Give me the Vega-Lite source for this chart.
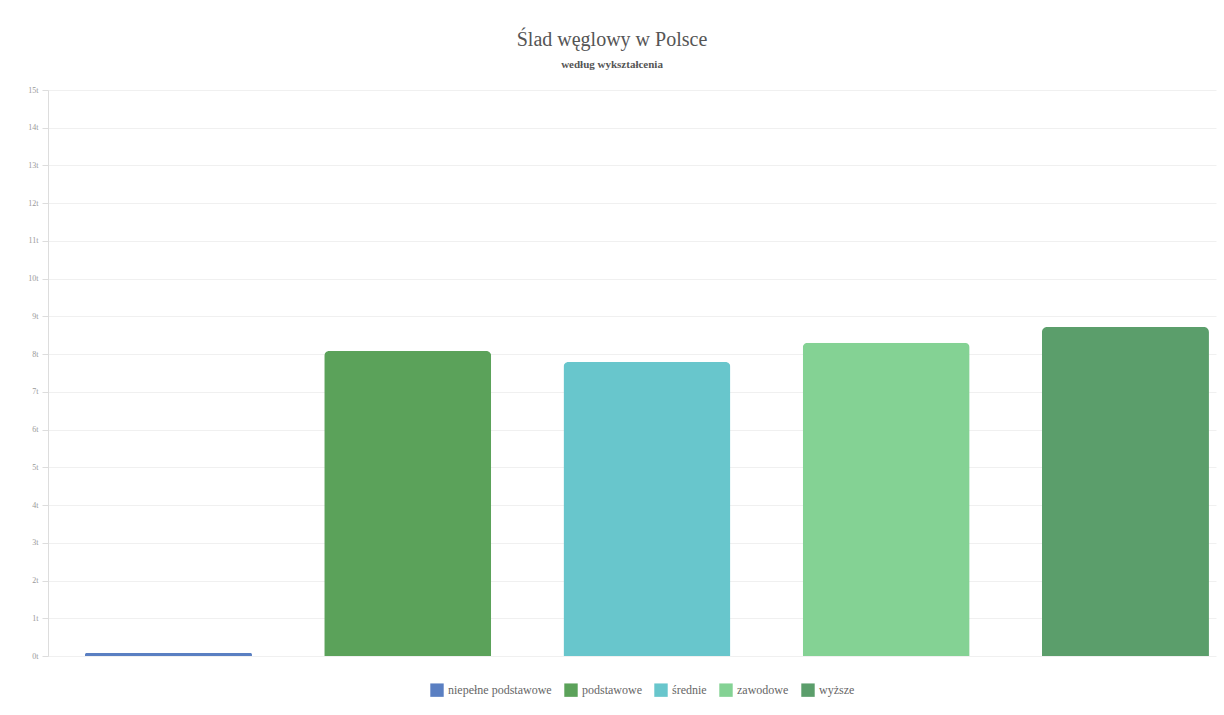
{
  "$schema": "https://vega.github.io/schema/vega-lite/v6.json",
  "width": 1168,
  "height": 566,
  "autosize": {"type": "none"},
  "padding": {"left": 48, "top": 90, "right": 8, "bottom": 59},
  "background": "white",
  "title": {
    "text": "Ślad węglowy w Polsce",
    "subtitle": "według wykształcenia",
    "anchor": "middle",
    "dx": -20,
    "offset": 16,
    "font": "Liberation Serif",
    "fontSize": 20,
    "fontWeight": "normal",
    "color": "#555555",
    "subtitleFont": "Liberation Serif",
    "subtitleFontSize": 11,
    "subtitleFontWeight": "bold",
    "subtitleColor": "#555555",
    "subtitlePadding": 9
  },
  "data": {
    "values": [
      {"wyksztalcenie": "niepełne podstawowe", "slad": 0.08},
      {"wyksztalcenie": "podstawowe", "slad": 8.08},
      {"wyksztalcenie": "średnie", "slad": 7.79},
      {"wyksztalcenie": "zawodowe", "slad": 8.3},
      {"wyksztalcenie": "wyższe", "slad": 8.72}
    ]
  },
  "mark": {"type": "bar", "cornerRadiusTopLeft": 5, "cornerRadiusTopRight": 5},
  "encoding": {
    "x": {
      "field": "wyksztalcenie",
      "type": "nominal",
      "sort": null,
      "scale": {"paddingInner": 0.302, "paddingOuter": 0.092, "align": 0.84},
      "axis": null
    },
    "y": {
      "field": "slad",
      "type": "quantitative",
      "scale": {"domain": [0, 15], "nice": false},
      "axis": {
        "title": null,
        "values": [0,1,2,3,4,5,6,7,8,9,10,11,12,13,14,15],
        "labelExpr": "datum.value + 't'",
        "labelFont": "Liberation Serif",
        "labelFontSize": 8,
        "labelColor": "#999999",
        "tickColor": "#dddddd",
        "tickSize": 6,
        "domainColor": "#dddddd",
        "gridColor": "#f0f0f0",
        "labelPadding": 4
      }
    },
    "color": {
      "field": "wyksztalcenie",
      "type": "nominal",
      "sort": null,
      "scale": {
        "domain": ["niepełne podstawowe", "podstawowe", "średnie", "zawodowe", "wyższe"],
        "range": ["#5a7fc2", "#5ba25a", "#68c6cc", "#84d294", "#5b9e6b"]
      },
      "legend": {
        "title": null,
        "orient": "none",
        "legendX": 382,
        "legendY": 593,
        "direction": "horizontal",
        "symbolType": "square",
        "symbolSize": 180,
        "symbolStrokeWidth": 0,
        "labelFont": "Liberation Serif",
        "labelFontSize": 12,
        "labelColor": "#666666",
        "columnPadding": 12
      }
    }
  },
  "config": {
    "view": {"stroke": null},
    "axis": {"grid": true}
  }
}
